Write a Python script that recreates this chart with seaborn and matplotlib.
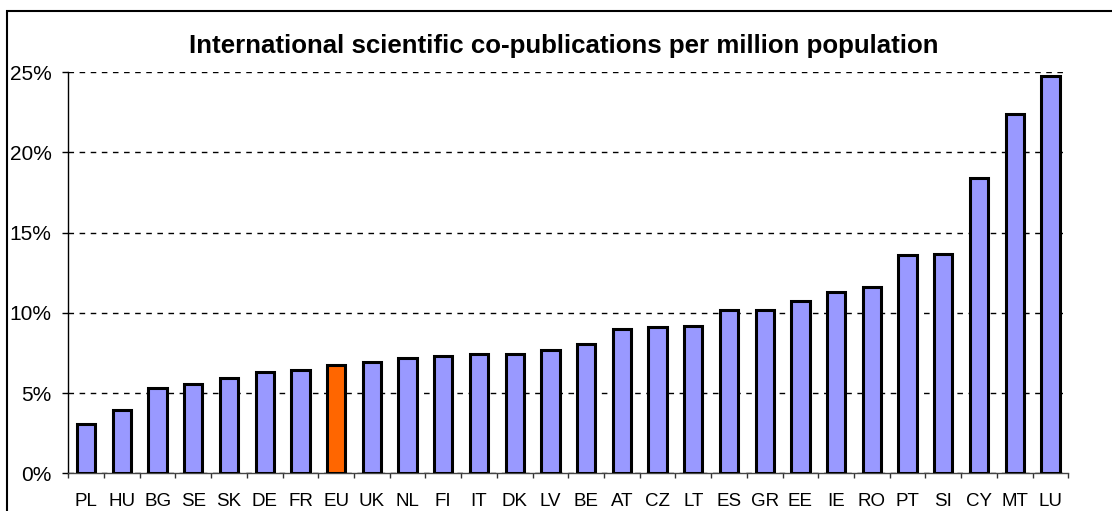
import numpy as np
import pandas as pd
import matplotlib
matplotlib.use('Agg')
import matplotlib.pyplot as plt
from matplotlib.patches import Rectangle
from matplotlib.ticker import FixedLocator, PercentFormatter
import seaborn as sns

countries = ['PL', 'HU', 'BG', 'SE', 'SK', 'DE', 'FR', 'EU', 'UK', 'NL', 'FI', 'IT', 'DK', 'LV',
             'BE', 'AT', 'CZ', 'LT', 'ES', 'GR', 'EE', 'IE', 'RO', 'PT', 'SI', 'CY', 'MT', 'LU']
share = [3.05, 3.92, 5.3, 5.57, 5.96, 6.3, 6.46, 6.73, 6.96, 7.19, 7.34, 7.42, 7.42, 7.71,
         8.09, 9.02, 9.11, 9.21, 10.17, 10.18, 10.72, 11.32, 11.6, 13.59, 13.69, 18.41, 22.38, 24.77]
highlight = 'EU'

df = pd.DataFrame({'country': countries, 'share': share})
palette = {c: ('#FF6600' if c == highlight else '#9999FF') for c in countries}

sns.set_style('white')
plt.rcParams['font.family'] = ['Liberation Sans', 'DejaVu Sans']
plt.rcParams['text.color'] = 'black'
plt.rcParams['xtick.color'] = 'black'
plt.rcParams['ytick.color'] = 'black'

fig = plt.figure(figsize=(11.12, 5.11), dpi=100)
ax = fig.add_axes([68.3 / 1112, (511 - 473.3) / 511, 1000 / 1112, 401 / 511])

sns.barplot(data=df, x='country', y='share', hue='country', palette=palette, legend=False,
            saturation=1, width=0.51, edgecolor='black', linewidth=2.2, ax=ax, zorder=3)

ax.set_xlim(-0.5, len(countries) - 0.5)
ax.set_ylim(0, 25)
ax.set_yticks([0, 5, 10, 15, 20, 25])
ax.yaxis.set_major_formatter(PercentFormatter(decimals=0))
ax.grid(axis='y', color='black', linestyle=(0, (4, 4)), linewidth=1, zorder=0)
ax.grid(axis='x', visible=False)

# Excel-style ticks between the categories
ax.xaxis.set_minor_locator(FixedLocator(np.arange(-0.5, len(countries), 1.0)))
ax.tick_params(axis='x', which='major', length=0, pad=14, labelsize=13.5, labelcolor='black')
ax.tick_params(axis='x', which='minor', length=3.8, width=1, color='#333333', direction='out')
ax.tick_params(axis='y', which='major', length=4.5, width=1, direction='out', pad=7.5,
               labelsize=15, labelcolor='black')
ax.tick_params(bottom=True, left=True, which='both')
ax.xaxis.set_ticks_position('bottom')

for side in ['top', 'right']:
    ax.spines[side].set_visible(False)
ax.spines['left'].set_color('black')
ax.spines['left'].set_linewidth(1)
ax.spines['bottom'].set_color('#444444')
ax.spines['bottom'].set_linewidth(1)

ax.set_xlabel('')
ax.set_ylabel('')
fig.text(564 / 1112, 1 - 53 / 511, 'International scientific co-publications per million population',
         ha='center', va='baseline', fontsize=18.6, fontweight='bold', color='black')

fig.patches.append(Rectangle((7 / 1112, -0.05), 1.2, (1 - 11 / 511) + 0.05, transform=fig.transFigure,
                             fill=False, edgecolor='black', linewidth=1.5))

fig.savefig('out.png', dpi=100)
